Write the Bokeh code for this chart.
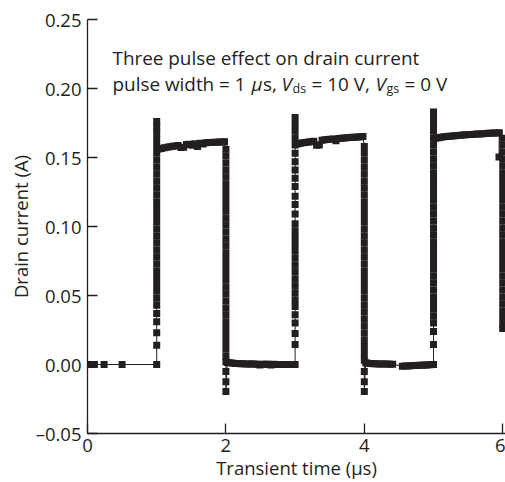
from bokeh.plotting import figure
from bokeh.models import FixedTicker, Range1d
from bokeh.core.properties import value
from bokeh.embed import file_html
from bokeh.resources import INLINE

INK = "#231f20"
FONT = "Open Sans"

# ---- transient simulation samples: time (µs) and drain current (A) ----
# off state before the first pulse
pre_t = [0.00, 0.02, 0.04, 0.07, 0.10, 0.24, 0.50]
pre_i = [0.0, 0.0, 0.0, 0.0, 0.0, 0.0, 0.0]

# rising edge of pulse 1 (t = 1 µs)
rise1_t = 1.0
rise1_i = [0.000, 0.014, 0.023, 0.031, 0.037, 0.043, 0.048, 0.053, 0.058, 0.063,
           0.068, 0.073, 0.078, 0.083, 0.088, 0.093, 0.098, 0.103, 0.108, 0.113,
           0.118, 0.123, 0.128, 0.133, 0.138, 0.143, 0.148, 0.153, 0.158, 0.163,
           0.168, 0.172, 0.176]

# on state of pulse 1
on1_t = [1.03, 1.07, 1.11, 1.15, 1.19, 1.23, 1.27, 1.31, 1.35, 1.39, 1.43, 1.47, 1.51,
         1.55, 1.59, 1.63, 1.67, 1.71, 1.75, 1.79, 1.83, 1.87, 1.91, 1.95, 1.98]
on1_i = [0.1562, 0.1566, 0.1570, 0.1574, 0.1578, 0.1581, 0.1584, 0.1587, 0.1572, 0.1575,
         0.1594, 0.1596, 0.1588, 0.1600, 0.1580, 0.1604, 0.1598, 0.1606, 0.1608, 0.1609,
         0.1610, 0.1611, 0.1612, 0.1613, 0.1614]

# falling edge of pulse 1 (t = 2 µs)
fall1_t = 2.0
fall1_i = [0.156, 0.151, 0.146, 0.141, 0.136, 0.131, 0.126, 0.121, 0.116, 0.111,
           0.106, 0.101, 0.096, 0.091, 0.086, 0.081, 0.076, 0.071, 0.066, 0.061,
           0.056, 0.051, 0.046, 0.041, 0.036, 0.031, 0.026, 0.021, 0.016, 0.011,
           0.006, 0.002, -0.005, -0.0125, -0.0195]

# off state between pulses 1 and 2
off1_t = [2.02, 2.05, 2.09, 2.13, 2.17, 2.21, 2.25, 2.29, 2.33, 2.37, 2.41, 2.45, 2.49,
          2.53, 2.57, 2.61, 2.65, 2.69, 2.73, 2.77, 2.81, 2.85, 2.89, 2.93, 2.97, 2.99]
off1_i = [0.0015, 0.0012, 0.0010, 0.0008, 0.0007, 0.0006, 0.0005, 0.0004, 0.0004, 0.0003,
          0.0003, 0.0002, -0.0004, 0.0002, 0.0001, 0.0001, -0.0003, 0.0001, 0.0000, 0.0000,
          0.0000, 0.0000, 0.0000, 0.0000, 0.0000, 0.0000]

# rising edge of pulse 2 (t = 3 µs)
rise2_t = 3.0
rise2_i = [0.000, 0.0145, 0.0225, 0.030, 0.036, 0.042, 0.047, 0.052, 0.057, 0.062,
           0.067, 0.072, 0.077, 0.082, 0.087, 0.092, 0.097, 0.102, 0.109, 0.116,
           0.122, 0.129, 0.135, 0.141, 0.147, 0.153, 0.159, 0.164, 0.169, 0.174, 0.179]

# on state of pulse 2
on2_t = [3.03, 3.07, 3.11, 3.15, 3.19, 3.23, 3.27, 3.31, 3.35, 3.39, 3.43, 3.47, 3.51,
         3.55, 3.59, 3.63, 3.67, 3.71, 3.75, 3.79, 3.83, 3.87, 3.91, 3.95, 3.98]
on2_i = [0.1598, 0.1602, 0.1606, 0.1609, 0.1612, 0.1615, 0.1617, 0.1588, 0.1590, 0.1625,
         0.1628, 0.1630, 0.1632, 0.1634, 0.1621, 0.1638, 0.1640, 0.1642, 0.1643, 0.1645,
         0.1646, 0.1647, 0.1649, 0.1650, 0.1652]

# falling edge of pulse 2 (t = 4 µs)
fall2_t = 4.0
fall2_i = [0.158, 0.153, 0.148, 0.143, 0.138, 0.133, 0.128, 0.123, 0.118, 0.113,
           0.108, 0.103, 0.098, 0.093, 0.088, 0.083, 0.078, 0.073, 0.068, 0.063,
           0.058, 0.053, 0.048, 0.043, 0.038, 0.033, 0.028, 0.023, 0.018, 0.013,
           0.008, 0.003, -0.005, -0.0125, -0.0195]

# off state between pulses 2 and 3
off2_t = [4.02, 4.05, 4.09, 4.13, 4.17, 4.21, 4.25, 4.29, 4.33, 4.37, 4.41, 4.55,
          4.59, 4.63, 4.67, 4.71, 4.75, 4.79, 4.83, 4.87, 4.91, 4.95, 4.98]
off2_i = [0.0012, 0.0009, 0.0007, 0.0006, 0.0005, 0.0004, 0.0004, 0.0003, 0.0003, 0.0002,
          0.0002, -0.0012, -0.0011, -0.0010, -0.0009, -0.0008, -0.0007, -0.0006, -0.0005,
          -0.0004, -0.0003, -0.0002, 0.0000]

# rising edge of pulse 3 (t = 5 µs)
rise3_t = 5.0
rise3_i = [0.000, 0.0145, 0.024, 0.030, 0.035, 0.040, 0.0446, 0.049, 0.054, 0.059,
           0.064, 0.069, 0.074, 0.079, 0.084, 0.089, 0.094, 0.099, 0.104, 0.109,
           0.114, 0.119, 0.124, 0.129, 0.134, 0.139, 0.144, 0.149, 0.154, 0.159,
           0.164, 0.169, 0.174, 0.179, 0.183]

# on state of pulse 3
on3_t = [5.03, 5.07, 5.11, 5.15, 5.19, 5.23, 5.27, 5.31, 5.35, 5.39, 5.43, 5.47,
         5.51, 5.55, 5.59, 5.63, 5.67, 5.71, 5.75, 5.79, 5.83, 5.87, 5.91, 5.95]
on3_i = [0.1640, 0.1644, 0.1647, 0.1650, 0.1652, 0.1654, 0.1656, 0.1658, 0.1660, 0.1661,
         0.1663, 0.1664, 0.1666, 0.1667, 0.1668, 0.1670, 0.1671, 0.1672, 0.1674, 0.1675,
         0.1676, 0.1677, 0.1678, 0.1680]

# short dip just before the last switch-off
dip_t = [5.946]
dip_i = [0.1504]

# falling edge of pulse 3 (t = 6 µs)
fall3_t = 6.0
fall3_i = [0.164, 0.159, 0.154, 0.149, 0.144, 0.139, 0.134, 0.129, 0.124, 0.119,
           0.114, 0.109, 0.104, 0.099, 0.094, 0.089, 0.084, 0.079, 0.074, 0.069,
           0.064, 0.059, 0.054, 0.049, 0.044, 0.039, 0.034, 0.029, 0.026]

# axis ticks
x_ticks = [0, 2, 4, 6]
y_ticks = [-0.05, 0.0, 0.05, 0.10, 0.15, 0.20, 0.25]
y_tick_labels = {-0.05: "\u20130.05", 0.0: "0.00", 0.05: "0.05", 0.10: "0.10",
                 0.15: "0.15", 0.20: "0.20", 0.25: "0.25"}

# annotation text
title_line1 = "Three pulse effect on drain current"

# ---- assemble the waveform in time order ----
def edge(t, currents):
    return [t] * len(currents), list(currents)

segments = [
    (pre_t, pre_i),
    edge(rise1_t, rise1_i),
    (on1_t, on1_i),
    edge(fall1_t, fall1_i),
    (off1_t, off1_i),
    edge(rise2_t, rise2_i),
    (on2_t, on2_i),
    edge(fall2_t, fall2_i),
    (off2_t, off2_i),
    edge(rise3_t, rise3_i),
    (on3_t, on3_i),
    (dip_t, dip_i),
    edge(fall3_t, fall3_i),
]
time_us = [t for seg in segments for t in seg[0]]
drain_a = [i for seg in segments for i in seg[1]]

p = figure(
    width=505, height=482,
    x_range=Range1d(0, 6.04), y_range=Range1d(-0.05, 0.25),
    output_backend="svg", toolbar_location=None,
    min_border_left=87, min_border_right=0, min_border_top=19, min_border_bottom=49,
)
p.outline_line_color = None
p.grid.visible = False
p.background_fill_color = "white"
p.border_fill_color = "white"

p.line(time_us, drain_a, line_color=INK, line_width=1)
p.scatter(time_us, drain_a, marker="square", size=7, fill_color=INK, line_color=None)

# axes: inward ticks, no minor ticks
for ax in (p.xaxis[0], p.yaxis[0]):
    ax.axis_line_color = INK
    ax.axis_line_width = 1.3
    ax.major_tick_line_color = INK
    ax.major_tick_line_width = 1.3
    ax.major_tick_in = 10
    ax.major_tick_out = 0
    ax.minor_tick_line_color = None
    ax.major_label_text_font = FONT
    ax.major_label_text_font_size = "18.5px"
    ax.major_label_text_color = INK
    ax.axis_label_text_font = FONT
    ax.axis_label_text_font_size = "18.5px"
    ax.axis_label_text_font_style = "normal"
    ax.axis_label_text_color = INK
    ax.axis_label_standoff = 0

p.xaxis.ticker = FixedTicker(ticks=x_ticks)
p.yaxis.ticker = FixedTicker(ticks=y_ticks)
p.yaxis.major_label_overrides = y_tick_labels
p.xaxis.axis_label = "Transient time (µs)"
p.yaxis.axis_label = "Drain current (A)"
p.xaxis.major_label_standoff = 5
p.yaxis.major_label_standoff = 6

# in-plot annotation, second line built from styled pieces
ann_x = 0.361
p.text(x=[ann_x], y=[0.2222], text=[title_line1], text_font=value(FONT),
       text_font_size="18.9px", text_color=INK, text_baseline="alphabetic")

pieces = [
    # text, pixel offset, size, style, baseline shift
    ("pulse width = 1", 0, "18.9px", "normal", 0),
    ("\u03bc", 139, "18.9px", "italic", 0),
    ("s,", 150.5, "18.9px", "normal", 0),
    ("V", 169, "18.9px", "italic", 0),
    ("ds", 180, "12.5px", "normal", -4),
    ("= 10 V,", 199, "18.9px", "normal", 0),
    ("V", 263, "18.9px", "italic", 0),
    ("gs", 274, "12.5px", "normal", -4),
    ("= 0 V", 292, "18.9px", "normal", 0),
]
for txt, dx, size, style, dy in pieces:
    p.text(x=[ann_x], y=[0.2029], text=[txt], x_offset=dx, y_offset=-dy,
           text_font=value(FONT), text_font_size=size, text_font_style=style,
           text_color=INK, text_baseline="alphabetic")

open("out.html", "w").write(file_html(p, INLINE))
